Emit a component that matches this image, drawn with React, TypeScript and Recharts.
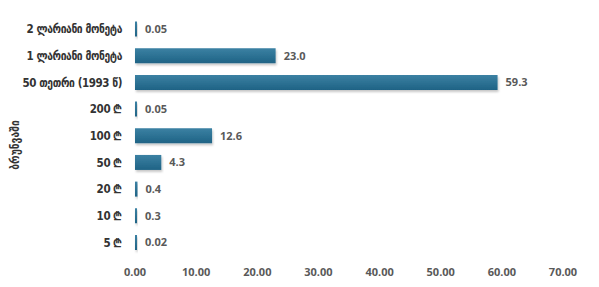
import { Bar, BarChart, LabelList, XAxis, YAxis, Label } from "recharts";

const categories = [
  "2 ლარიანი მონეტა",
  "1 ლარიანი მონეტა",
  "50 თეთრი (1993 წ)",
  "200 ₾",
  "100 ₾",
  "50 ₾",
  "20 ₾",
  "10 ₾",
  "5 ₾",
];
const values = [0.05, 23.0, 59.3, 0.05, 12.6, 4.3, 0.4, 0.3, 0.02];
const xTicks = [0, 10, 20, 30, 40, 50, 60, 70];
const axisTitle = "ბრუნვაში";

const data = categories.map((name, i) => ({ name, value: values[i] }));

function formatValue(value: unknown) {
  const num = Number(value);
  return num >= 1 ? num.toFixed(1) : String(num);
}

function CategoryTick(props: any) {
  const { x, y, payload } = props;
  return (
    <text
      dominantBaseline="central"
      fill="#333333"
      fontFamily="DejaVu Sans Condensed"
      fontSize={11.5}
      fontWeight={700}
      letterSpacing={-0.4}
      textAnchor="end"
      x={x - 11}
      y={y}
    >
      {payload.value}
    </text>
  );
}

function AxisTitle() {
  // vertical title on the left, reads bottom to top
  return (
    <text
      fill="#333333"
      fontFamily="DejaVu Sans Condensed"
      fontSize={11.5}
      fontWeight={700}
      textAnchor="middle"
      transform="translate(19, 145) rotate(-90)"
    >
      {axisTitle}
    </text>
  );
}

export default function App() {
  return (
    <div style={{ position: "absolute", left: 0, top: 0, width: 599, height: 287, background: "#ffffff" }}>
      <BarChart
        data={data}
        height={287}
        layout="vertical"
        margin={{ bottom: 8, left: 0, right: 36, top: 16 }}
        width={599}
        barCategoryGap="21%"
      >
        <defs>
          <linearGradient id="barFill" x1="0" x2="0" y1="0" y2="1">
            <stop offset="0%" stopColor="#3b81a3" />
            <stop offset="100%" stopColor="#1f6385" />
          </linearGradient>
          <filter id="barShadow" x="-5%" y="-30%" width="115%" height="180%">
            <feDropShadow dx="1" dy="2" stdDeviation="1.2" floodColor="#000000" floodOpacity="0.22" />
          </filter>
        </defs>
        <XAxis
          axisLine={false}
          domain={[0, 70]}
          height={23}
          tick={{ fill: "#595959", fontFamily: "Open Sans", fontSize: 11, fontWeight: 700 }}
          tickFormatter={(v) => Number(v).toFixed(2)}
          tickLine={false}
          tickMargin={6}
          ticks={xTicks}
          type="number"
        />
        <YAxis
          axisLine={false}
          dataKey="name"
          interval={0}
          tick={<CategoryTick />}
          tickLine={false}
          tickSize={0}
          type="category"
          width={135}
        >
          <Label content={<AxisTitle />} />
        </YAxis>
        <Bar
          dataKey="value"
          fill="url(#barFill)"
          filter="url(#barShadow)"
          isAnimationActive={false}
          minPointSize={2}
        >
          <LabelList
            dataKey="value"
            fill="#595959"
            fontFamily="Open Sans"
            fontSize={11}
            fontWeight={700}
            formatter={formatValue}
            offset={8}
            position="right"
          />
        </Bar>
      </BarChart>
    </div>
  );
}
